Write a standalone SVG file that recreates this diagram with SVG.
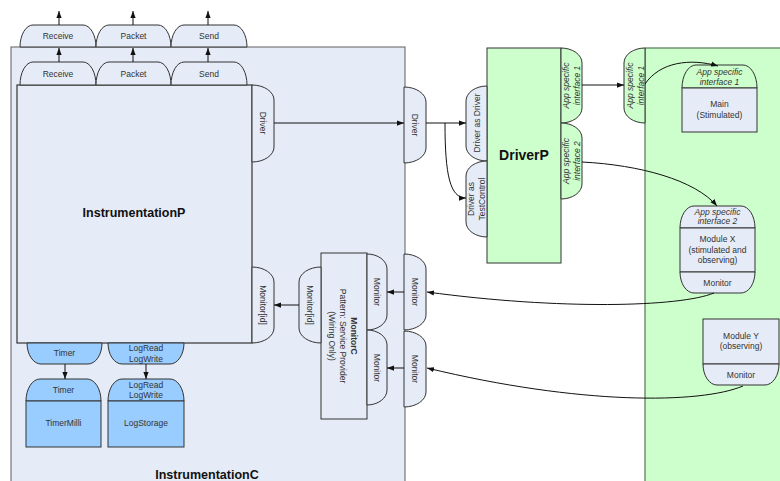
<svg xmlns="http://www.w3.org/2000/svg" width="780" height="481" viewBox="0 0 780 481">
<defs>
<style>
.lb{fill:#e6ecf7;stroke:#333;stroke-width:1}
.gr{fill:#ccffcc;stroke:#333;stroke-width:1}
.bl{fill:#99ccff;stroke:#333;stroke-width:1}
.t{font-family:"Liberation Sans",Arial,sans-serif;font-size:8.5px;fill:#333;text-anchor:middle}
.it{font-style:italic}
.bd{font-family:"Liberation Sans",Arial,sans-serif;font-weight:bold;fill:#111;text-anchor:middle}
.cn{fill:none;stroke:#111;stroke-width:1;marker-end:url(#a)}
</style>
<marker id="a" viewBox="0 0 8 6" refX="8" refY="3" markerWidth="7" markerHeight="6" orient="auto" markerUnits="userSpaceOnUse"><path d="M0,0 L8,3 L0,6 z" fill="#111"/></marker>
</defs>
<rect width="780" height="481" fill="#fff"/>

<g id="InstrumentationC">
<rect x="11" y="47" width="394" height="440" fill="#e6ecf7" stroke="#777" stroke-width="1.2"/>
<text class="bd" x="207" y="479" font-size="12.5">InstrumentationC</text>
</g>

<g id="tabs-top">
<path class="lb" d="M20,47 A13,22 0 0 1 33,25 H83 A13,22 0 0 1 96,47 Z"/>
<text class="t" x="58" y="39">Receive</text>
<path class="lb" d="M96,47 A13,22 0 0 1 109,25 H158 A13,22 0 0 1 171,47 Z"/>
<text class="t" x="133.5" y="39">Packet</text>
<path class="lb" d="M171,47 A13,22 0 0 1 184,25 H234 A13,22 0 0 1 247,47 Z"/>
<text class="t" x="209" y="39">Send</text>
</g>

<g id="InstrumentationP">
<rect x="17" y="85" width="235" height="258" fill="#e6ecf7" stroke="#333" stroke-width="1.2"/>
<text class="bd" x="134" y="217" font-size="12.5">InstrumentationP</text>
<path class="lb" d="M20,85 A13,23 0 0 1 33,62 H83 A13,23 0 0 1 96,85 Z"/>
<text class="t" x="58" y="77">Receive</text>
<path class="lb" d="M96,85 A13,23 0 0 1 109,62 H158 A13,23 0 0 1 171,85 Z"/>
<text class="t" x="133.5" y="77">Packet</text>
<path class="lb" d="M171,85 A13,23 0 0 1 184,62 H234 A13,23 0 0 1 247,85 Z"/>
<text class="t" x="209" y="77">Send</text>
<path class="lb" d="M252,85 A22,15 0 0 1 274,100 V147 A22,15 0 0 1 252,162 Z"/>
<text class="t" transform="translate(263,123) rotate(90)" y="3">Driver</text>
<path class="lb" d="M252,267 A22,15 0 0 1 274,282 V328 A22,15 0 0 1 252,343 Z"/>
<text class="t" transform="translate(263,305) rotate(90)" y="3">Monitor[id]</text>
<path class="bl" d="M27,343 A14,21 0 0 0 41,364 H88 A14,21 0 0 0 102,343 Z"/>
<text class="t" x="64.5" y="356">Timer</text>
<path class="bl" d="M108,343 A14,21 0 0 0 122,364 H170 A14,21 0 0 0 184,343 Z"/>
<text class="t" x="146" y="351">LogRead</text>
<text class="t" x="146" y="362">LogWrite</text>
</g>

<g id="TimerMilli">
<path class="bl" d="M26,401 A14,22 0 0 1 40,379 H87 A14,22 0 0 1 101,401 Z"/>
<rect class="bl" x="26" y="401" width="75" height="46"/>
<text class="t" x="63.5" y="393">Timer</text>
<text class="t" x="63.5" y="426">TimerMilli</text>
</g>

<g id="LogStorage">
<path class="bl" d="M108,401 A14,22 0 0 1 122,379 H170 A14,22 0 0 1 184,401 Z"/>
<rect class="bl" x="108" y="401" width="76" height="46"/>
<text class="t" x="146" y="388">LogRead</text>
<text class="t" x="146" y="398">LogWrite</text>
<text class="t" x="146" y="426">LogStorage</text>
</g>

<g id="MonitorC">
<rect x="321" y="253" width="46" height="166" fill="#e6ecf7" stroke="#333"/>
<g transform="translate(344,336) rotate(90)">
<text class="t" y="-7" font-weight="bold" fill="#111">MonitorC</text>
<text class="t" y="4">Pattern: Service Provider</text>
<text class="t" y="15">(Wiring Only)</text>
</g>
<path class="lb" d="M367,254 A20,15 0 0 1 387,269 V315 A20,15 0 0 1 367,330 Z"/>
<text class="t" transform="translate(377,292) rotate(90)" y="3">Monitor</text>
<path class="lb" d="M367,330 A20,15 0 0 1 387,345 V390 A20,15 0 0 1 367,405 Z"/>
<text class="t" transform="translate(377,368) rotate(90)" y="3">Monitor</text>
<path class="lb" d="M321,267 A22,15 0 0 0 299,282 V328 A22,15 0 0 0 321,343 Z"/>
<text class="t" transform="translate(310,305) rotate(90)" y="3">Monitor[id]</text>
</g>

<g id="InstrumentationC-ports">
<path class="lb" d="M404,87 A22,15 0 0 1 426,102 V148 A22,15 0 0 1 404,163 Z"/>
<text class="t" transform="translate(415,125) rotate(90)" y="3">Driver</text>
<path class="lb" d="M404,254 A22,15 0 0 1 426,269 V315 A22,15 0 0 1 404,330 Z"/>
<text class="t" transform="translate(415,292) rotate(90)" y="3">Monitor</text>
<path class="lb" d="M404,331 A22,15 0 0 1 426,346 V392 A22,15 0 0 1 404,407 Z"/>
<text class="t" transform="translate(415,369) rotate(90)" y="3">Monitor</text>
</g>

<g id="DriverP">
<rect class="gr" x="487" y="48" width="74" height="215"/>
<text class="bd" x="524" y="160" font-size="14">DriverP</text>
<path class="lb" d="M487,86 A21,15 0 0 0 466,101 V146 A21,15 0 0 0 487,161 Z"/>
<text class="t" transform="translate(476.5,123) rotate(-90)" y="3">Driver as Driver</text>
<path class="lb" d="M487,161 A21,15 0 0 0 466,176 V222 A21,15 0 0 0 487,237 Z"/>
<g transform="translate(476.5,199) rotate(-90)">
<text class="t" y="-2.5">Driver as</text>
<text class="t" y="8.5">TestControl</text>
</g>
<path class="gr" d="M561,48 A21,15 0 0 1 582,63 V108 A21,15 0 0 1 561,123 Z"/>
<g transform="translate(571.5,85.5) rotate(-90)">
<text class="t it" y="-2.5">App specific</text>
<text class="t it" y="8.5">interface 1</text>
</g>
<path class="gr" d="M561,123 A21,15 0 0 1 582,138 V184 A21,15 0 0 1 561,199 Z"/>
<g transform="translate(571.5,161) rotate(-90)">
<text class="t it" y="-2.5">App specific</text>
<text class="t it" y="8.5">interface 2</text>
</g>
</g>

<g id="Application">
<rect x="645" y="48" width="140" height="440" fill="#ccffcc" stroke="#557755" stroke-width="1.2"/>
<path class="gr" d="M645,48 A21,15 0 0 0 624,63 V108 A21,15 0 0 0 645,123 Z"/>
<g transform="translate(635,85.5) rotate(-90)">
<text class="t it" y="-2.5">App specific</text>
<text class="t it" y="8.5">interface 1</text>
</g>
</g>

<g id="Main">
<path class="gr" d="M682,88 A14,23 0 0 1 696,65 H743 A14,23 0 0 1 757,88 Z"/>
<rect class="lb" x="682" y="88" width="75" height="44"/>
<text class="t it" x="719.5" y="75">App specific</text>
<text class="t it" x="719.5" y="85">interface 1</text>
<text class="t" x="719.5" y="107">Main</text>
<text class="t" x="719.5" y="118">(Stimulated)</text>
</g>

<g id="ModuleX">
<path class="lb" d="M680,228 A14,22 0 0 1 694,206 H741 A14,22 0 0 1 755,228 Z"/>
<rect class="lb" x="680" y="228" width="75" height="44"/>
<path class="lb" d="M680,272 A14,21 0 0 0 694,293 H741 A14,21 0 0 0 755,272 Z"/>
<text class="t it" x="717.5" y="215">App specific</text>
<text class="t it" x="717.5" y="224">interface 2</text>
<text class="t" x="717.5" y="242">Module X</text>
<text class="t" x="717.5" y="253">(stimulated and</text>
<text class="t" x="717.5" y="263">observing)</text>
<text class="t" x="717.5" y="286">Monitor</text>
</g>

<g id="ModuleY">
<rect class="lb" x="703" y="319" width="76" height="45"/>
<path class="lb" d="M703,364 A14,21 0 0 0 717,385 H765 A14,21 0 0 0 779,364 Z"/>
<text class="t" x="741" y="339">Module Y</text>
<text class="t" x="741" y="349">(observing)</text>
<text class="t" x="741" y="378">Monitor</text>
</g>

<g id="connectors">
<path class="cn" d="M59,25 V11"/>
<path class="cn" d="M133,25 V11"/>
<path class="cn" d="M208,25 V11"/>
<path class="cn" d="M59,62 V48"/>
<path class="cn" d="M133,62 V48"/>
<path class="cn" d="M208,62 V48"/>
<path class="cn" d="M274,123 H404"/>
<path class="cn" d="M426,123 H466"/>
<path class="cn" d="M445,123 C445,175 450,198 466,198"/>
<path class="cn" d="M582,85 H624"/>
<path class="cn" d="M645,84 C660,62 690,58 718,66"/>
<path class="cn" d="M582,162 C640,165 695,180 717,206"/>
<path class="cn" d="M714,293 C680,307 560,310 427,292"/>
<path class="cn" d="M743,386 C700,404 580,405 427,368"/>
<path class="cn" d="M404,292 H387"/>
<path class="cn" d="M404,368 H387"/>
<path class="cn" d="M299,305 H274"/>
<path class="cn" d="M65,364 V379"/>
<path class="cn" d="M146,364 V379"/>
</g>
</svg>
